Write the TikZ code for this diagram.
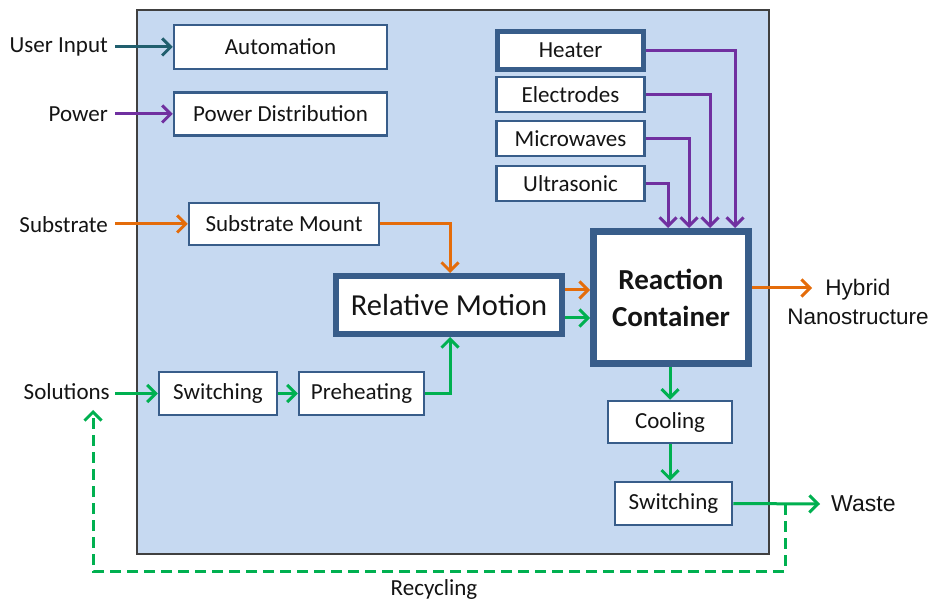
\documentclass[tikz,border=0pt]{standalone}
\usepackage{fontspec}
\setmainfont{Carlito}
\newfontfamily\arialf{Liberation Sans}
\usetikzlibrary{arrows.meta,calc}
\definecolor{panelfill}{RGB}{198,217,241}
\definecolor{panelline}{RGB}{64,64,64}
\definecolor{boxline}{RGB}{56,93,138}
\definecolor{corange}{RGB}{228,108,10}
\definecolor{cpurple}{RGB}{112,48,160}
\definecolor{cgreen}{RGB}{0,176,80}
\definecolor{cteal}{RGB}{33,95,110}
\definecolor{txt}{RGB}{20,20,20}
\tikzset{
  box/.style={draw=boxline, fill=white, line width=2.5pt, inner sep=0pt, text=txt,
    font=\fontsize{23}{27}\selectfont},
  lbl/.style={inner sep=0pt, text=txt, font=\fontsize{23}{27}\selectfont},
  arr/.style={line width=3pt, -{Straight Barb[length=8.5pt,width=17pt]}},
}
\begin{document}
\begin{tikzpicture}[x=1pt,y=-1pt]
\useasboundingbox (0,0) rectangle (932,601);
\fill[white] (0,0) rectangle (932,601);
% panel
\draw[panelline, fill=panelfill, line width=1.5pt] (137,10) rectangle (769,554);

% boxes
\node[box, minimum width=213pt, minimum height=44pt] (auto) at (280.5,47) {Automation};
\node[box, minimum width=213pt, minimum height=43pt] (pdist) at (280.5,114) {Power Distribution};
\node[box, minimum width=190pt, minimum height=42pt] (mount) at (284,224) {Substrate Mount};
\node[box, line width=6pt, minimum width=226pt, minimum height=58pt,
      font=\fontsize{30.5}{34}\selectfont] (relm) at (449,305) {Relative Motion};
\node[box, line width=7pt, minimum width=155pt, minimum height=132pt, align=center,
      font=\bfseries\fontsize{29}{37}\selectfont] (react) at (671,297.5) {Reaction\\Container};
\node[box, line width=5pt, minimum width=146pt, minimum height=38pt] (heater) at (570.5,50.5) {Heater};
\node[box, minimum width=148pt, minimum height=35pt] (elec) at (570.5,94.5) {Electrodes};
\node[box, minimum width=148pt, minimum height=35pt] (micro) at (570.5,138.5) {Microwaves};
\node[box, minimum width=148pt, minimum height=35pt] (ultra) at (570.5,183.5) {Ultrasonic};
\node[box, minimum width=118pt, minimum height=43pt] (sw1) at (218,393.5) {Switching};
\node[box, minimum width=125pt, minimum height=43pt] (pre) at (361.5,393.5) {Preheating};
\node[box, minimum width=124pt, minimum height=42pt] (cool) at (670,422) {Cooling};
\node[box, minimum width=117pt, minimum height=43pt] (sw2) at (673.5,503.5) {Switching};

% outside labels
\node[lbl, inner xsep=7pt, anchor=east] (ui) at (115,47) {User Input};
\node[lbl, inner xsep=7pt, anchor=east] (pw) at (115,114) {Power};
\node[lbl, inner xsep=7pt, anchor=east] (sub) at (115,225) {Substrate};
\node[lbl, inner xsep=5pt, anchor=east] (sol) at (115,392) {Solutions};
\node[lbl, inner xsep=11pt, anchor=west, font=\arialf\fontsize{23}{29}\selectfont] (waste) at (820,504) {Waste};
\node[lbl, align=center, font=\arialf\fontsize{22.5}{29}\selectfont] (hyb) at (858,302) {Hybrid\\Nanostructure};
\node[lbl] (rec) at (434,589) {Recycling};

% input arrows
\draw[arr, cteal] (ui.east) -- (auto.west);
\draw[arr, cpurple] (pw.east) -- (pdist.west);
\draw[arr, corange] (sub.east |- mount.west) -- (mount.west);
\draw[arr, cgreen] (sol.east |- sw1.west) -- (sw1.west);

% substrate mount to relative motion
\coordinate (rmtop) at ([xshift=1pt]relm.north);
\draw[arr, corange] (mount.east) -| (rmtop);
% switching -> preheating -> relative motion
\draw[arr, cgreen] (sw1.east) -- (pre.west);
\coordinate (rmbot) at ([xshift=1pt]relm.south);
\draw[arr, cgreen] (pre.east) -| (rmbot);

% relative motion -> reaction container
\coordinate (o1) at ([yshift=15pt]relm.east);
\coordinate (g1) at ([yshift=-13pt]relm.east);
\draw[arr, corange] (o1) -- (o1 -| react.west);
\draw[arr, cgreen] (g1) -- (g1 -| react.west);

% purple energy inputs
\coordinate (ph) at ([xshift=64pt]react.north);
\coordinate (pe) at ([xshift=39pt]react.north);
\coordinate (pm) at ([xshift=18pt]react.north);
\coordinate (pu) at ([xshift=-3pt]react.north);
\draw[arr, cpurple] (heater.east) -| (ph);
\draw[arr, cpurple] (elec.east) -| (pe);
\draw[arr, cpurple] (micro.east) -| (pm);
\draw[arr, cpurple] (ultra.east) -| (pu);

% output
\coordinate (hyo) at ([yshift=9.5pt]react.east);
\coordinate (hyt) at (812,288);
\draw[arr, corange] (hyo) -- (hyo -| hyt);

% cooling chain
\coordinate (rcb) at (react.south -| cool.north);
\draw[arr, cgreen] (rcb) -- (cool.north);
\draw[arr, cgreen] (cool.south) -- (cool.south |- sw2.north);
\draw[arr, cgreen] (sw2.east) -- (waste.west);

% recycling loop
\coordinate (wj) at (785,504);
\coordinate (wb) at (785,571);
\coordinate (sb) at (93,571);
\coordinate (st) at (93,410);
\draw[line width=3pt, cgreen, dash pattern=on 11pt off 6pt, -{Straight Barb[length=8.5pt,width=17pt]}]
  (wj) -- (wb) -- (sb) -- (st);
\end{tikzpicture}
\end{document}
